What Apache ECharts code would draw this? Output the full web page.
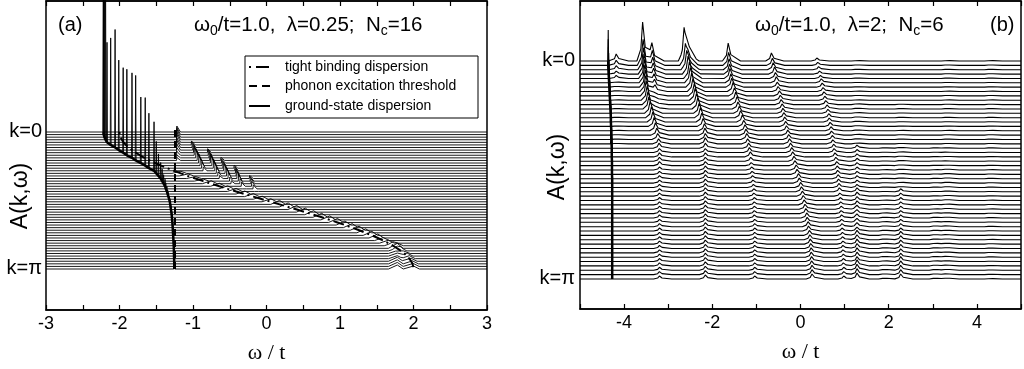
<!DOCTYPE html>
<html>
<head>
<meta charset="utf-8">
<title>A(k,ω) spectra</title>
<script src="https://cdn.jsdelivr.net/npm/echarts@6/dist/echarts.min.js"></script>
<style>
html,body{margin:0;padding:0;background:#fff;}
#chart{width:1024px;height:369px;}
</style>
</head>
<body>
<div id="chart"></div>
<script>
// expand run-length lists [[value, count], ...]
function runs(list) { const out = []; list.forEach(([v, n]) => { for (let j = 0; j < n; j++) out.push(v); }); return out; }

// ================= panel (a): ω0/t=1.0, λ=0.25, Nc=16 =================
const tickLabelsA = [-3, -2, -1, 0, 1, 2, 3];
const kLinesA = 54;                              // k = 0 (top) ... k = π (bottom)
const thresholdA = -1.245;                       // E0 + ω0
const tightBindingA = [-2.000,-1.996,-1.986,-1.968,-1.944,-1.913,-1.875,-1.830,-1.779,-1.722,-1.659,-1.590,-1.515,-1.435,-1.350,-1.260,-1.166,-1.068,-0.966,-0.861,-0.752,-0.641,-0.528,-0.412,-0.295,-0.178,-0.059,0.059,
  0.178,0.295,0.412,0.528,0.641,0.752,0.861,0.966,1.068,1.166,1.260,1.350,1.435,1.515,1.590,1.659,1.722,1.779,1.830,1.875,1.913,1.944,1.968,1.986,1.996,2.000];
const groundStateA = [-2.22,-2.215,-2.205,-2.19,-2.17,-2.12,-2.06,-2.01,-1.95,-1.90,
  -1.83,-1.78,-1.71,-1.65,-1.60,-1.53,-1.50,-1.47,-1.44,-1.42,
  -1.40,-1.38,-1.37,-1.355,-1.345,-1.335,-1.325,-1.315,-1.31,-1.305,
  -1.30,-1.295,-1.29,-1.287,-1.284,-1.281,-1.278,-1.276,-1.274,-1.272,
  -1.27,-1.268,-1.266,-1.264,-1.262,-1.261,-1.26,-1.259,-1.258,-1.257,
  -1.256,-1.255,-1.255,-1.255];
const qpWeightA = [220,210,200,190,100,107,118,90,85,86,85,85,66,68,55,49,32,22,16,12,9,7,6,5,4,4].concat(runs([[3, 28]]));
// phonon-edge peaks just above the threshold
const edgeA = { from: 0, pos: -1.22, h: [6,7,8,8,8,7,7,6,5,4,3,3,2] };
// satellite ridges between the threshold and the band
const ridgesA = [
  { from: 5,  pos: [-1.02,-1.01,-1.00,-0.99,-0.98,-0.96,-0.94,-0.92,-0.90,-0.88,-0.86], h: [4,5,6,7,8,9,9,9,8,6,4] },
  { from: 8,  pos: [-0.80,-0.79,-0.78,-0.77,-0.76,-0.74,-0.72,-0.70,-0.68,-0.66,-0.64], h: [4,5,6,7,8,9,9,8,6,4,3] },
  { from: 11, pos: [-0.62,-0.61,-0.60,-0.59,-0.58,-0.56,-0.54,-0.52,-0.50,-0.48], h: [3,4,5,6,7,8,8,6,4,3] },
  { from: 14, pos: [-0.44,-0.43,-0.42,-0.41,-0.40,-0.38,-0.36,-0.34,-0.32], h: [3,4,5,6,7,7,5,4,2] },
  { from: 17, pos: [-0.24,-0.23,-0.22,-0.21,-0.20,-0.18,-0.16], h: [2,3,4,5,5,4,2] }
];
// incoherent hump riding on the band
const humpA = { from: 16, pos: tightBindingA.slice(16), h: runs([[2,4],[3,8],[4,14],[3,12]]) };
const upperHumpA = { from: 44, pos: 1.78, h: [2,2,3,3,3,3,4,4,4,4] };

// ================= panel (b): ω0/t=1.0, λ=2, Nc=6 =================
const tickLabelsB = [-4, -2, 0, 2, 4];
const kLinesB = 51;
const polaronB = [-4.36,-4.36,-4.355,-4.35,-4.345,-4.34,-4.335,-4.33,-4.325,-4.32,
  -4.315,-4.31,-4.305,-4.30,-4.30,-4.295,-4.29,-4.29,-4.285,-4.285,
  -4.28,-4.28,-4.28,-4.275,-4.275,-4.275,-4.275].concat(runs([[-4.27, 24]]));
const polaronWeightB = [31,26,23,21,19,18,17,16,15,14,14,13,13,12,12,12,11,11,11,10,10,10,10,9,9,9,9,9,9,8].concat(runs([[8, 21]]));
const peaksB = [
  { from: 0, pos: -4.18, h: [7,5,4,3,3,2,2,2,1,1,1,1,1,1,1,1,1,1,1,1] },
  { from: 0, pos: [-3.58,-3.57,-3.56,-3.55,-3.54,-3.53,-3.52,-3.51,-3.50,-3.48,-3.46,-3.44,-3.41,-3.38,-3.35,-3.32,-3.29,-3.26,-3.24,-3.22,-3.21].concat(runs([[-3.20, 30]])),
    h: [39,26,22,20,19,18,17,16,15,14,13,12,12,11,10,9,8,7,6,5,5,4,4,4,4].concat(runs([[3, 26]])) },
  { from: 0, pos: [-3.37,-3.36,-3.35,-3.34,-3.33,-3.32,-3.31,-3.30,-3.29,-3.28,-3.27,-3.26], h: [14,12,10,9,8,7,6,5,4,3,2,1] },
  { from: 0, pos: [-2.64,-2.61,-2.58,-2.55,-2.52,-2.50,-2.47,-2.44,-2.41,-2.39,-2.36,-2.33,-2.30,-2.27,-2.24,-2.21,-2.18,-2.17].concat(runs([[-2.16, 33]])),
    h: [29,20,18,17,16,15,14,13,12,12,11,11,10,10,9,8,7,7,6,6,5].concat(runs([[4, 30]])) },
  { from: 0, pos: [-2.58,-2.555,-2.53,-2.505,-2.48,-2.455], h: [19,8,5,3,2,1] },
  { from: 0, pos: [-1.64,-1.63,-1.62,-1.61,-1.60,-1.58,-1.56,-1.53,-1.50,-1.47,-1.44,-1.42,-1.39,-1.36,-1.32,-1.29,-1.26,-1.24,-1.22,-1.20,-1.18,-1.16,-1.14,-1.13,-1.12,-1.11,-1.10,-1.09,-1.08,-1.07,-1.06,-1.06,-1.05,-1.05,-1.05,-1.05,-1.05].concat(runs([[-1.04, 14]])),
    h: [18,13,11,10,10,9,9,9,8,8,8,7,7,7,7,6,6,6,6,5,5,5,5,4].concat(runs([[3, 27]])) },
  { from: 0, pos: [-0.66,-0.64,-0.62,-0.59,-0.57,-0.55,-0.53,-0.51,-0.48,-0.46,-0.44,-0.42,-0.40,-0.38,-0.36,-0.34,-0.32,-0.29,-0.27,-0.25,-0.23,-0.20,-0.18,-0.15,-0.13,-0.10,-0.08,-0.05,-0.03,0.00,0.02,0.04,0.06,0.08,0.10,0.12,0.14,0.15,0.17,0.18,0.20,0.21,0.22,0.23,0.24,0.24,0.25,0.25,0.26,0.26,0.26],
    h: [8,7,7,7,6,6].concat(runs([[5, 45]])) },
  { from: 0, pos: [0.37,0.39,0.41,0.43,0.45,0.47,0.49,0.51,0.53,0.55,0.57,0.60,0.62,0.64,0.65,0.67,0.69,0.70,0.72,0.73,0.75,0.76,0.78,0.80,0.82,0.83,0.84,0.85,0.86,0.87,0.88,0.89,0.90,0.91,0.92,0.92,0.93,0.93,0.94,0.94,0.95,0.95,0.96,0.96,0.96,0.97,0.97,0.97,0.98,0.98,0.98],
    h: runs([[3,5],[4,26],[3,20]]) },
  { from: 0, pos: 1.28, h: runs([[1,10],[2,10],[3,10],[4,10],[5,7],[6,4]]) },
  { from: 0, pos: 1.90, h: runs([[0,20],[1,15],[2,16]]) },
  { from: 0, pos: 2.27, h: runs([[0,10],[1,10],[2,10],[3,10],[4,6],[5,5]]) },
  { from: 0, pos: 3.05, h: runs([[0,20],[1,15],[2,16]]) },
  { from: 0, pos: 3.32, h: runs([[1,25],[2,26]]) },
  { from: 0, pos: 4.30, h: runs([[1,51]]) }
];

// ---------------- drawing helpers ----------------
const SANS = '"Liberation Sans", Arial, Helvetica, sans-serif';
const SERIF = '"Liberation Serif", "Times New Roman", Times, serif';

// line-shape templates: list of [fraction of height, left half-width, right half-width]
const SHAPE = {
  spike: [[1, 0.006, 0.006]],
  edge:  [[1, 0.004, 0.05]],
  hump:  [[1, 0.12, 0.08]],
  peak:  [[0.55, 0.04, 0.06], [0.45, 0.13, 0.28]]
};

function peakAt(track, i) {
  const j = i - (track.from || 0);
  if (j < 0 || j >= track.h.length || !track.h[j]) return null;
  return [Array.isArray(track.pos) ? track.pos[j] : track.pos, track.h[j]];
}
function addShape(list, pk, shape) {
  if (!pk) return;
  SHAPE[shape].forEach(([f, wl, wr]) => list.push([pk[0], pk[1] * f, wl, wr]));
}
function triValue(x, t) {
  const [p, h, wl, wr] = t;
  if (x <= p - wl || x >= p + wr) return 0;
  return x <= p ? h * (x - (p - wl)) / wl : h * ((p + wr) - x) / wr;
}
function trace(tris, xmin, xmax, base) {
  const xs = [xmin, xmax];
  tris.forEach(t => xs.push(t[0] - t[2], t[0], t[0] + t[3]));
  const u = Array.from(new Set(xs.map(x => +x.toFixed(5)))).filter(x => x >= xmin && x <= xmax).sort((a, b) => a - b);
  return u.map(x => [x, base + tris.reduce((s, t) => s + triValue(x, t), 0)]);
}

// vertical layout of the stacked spectra (value units = pixels of each grid)
const baseA = i => 178 - i * (137 / 53);
const baseB = i => 248 - i * (218 / 50);

const series = [];
function spectrumSeries(grid, data) {
  series.push({
    type: 'line', xAxisIndex: grid * 2, yAxisIndex: grid, data, showSymbol: false, symbol: 'none',
    silent: true, animation: false, clip: true,
    lineStyle: { color: '#000', width: grid === 0 ? 0.9 : 1.1 }, z: 2
  });
}

for (let i = 0; i < kLinesA; i++) {
  const tris = [];
  addShape(tris, [groundStateA[i], qpWeightA[i]], 'spike');
  addShape(tris, peakAt(edgeA, i), 'edge');
  ridgesA.forEach(r => addShape(tris, peakAt(r, i), 'edge'));
  addShape(tris, peakAt(humpA, i), 'hump');
  addShape(tris, peakAt(upperHumpA, i), 'hump');
  spectrumSeries(0, trace(tris, -3, 3, baseA(i)));
}
for (let i = 0; i < kLinesB; i++) {
  const tris = [];
  addShape(tris, [polaronB[i], polaronWeightB[i]], 'spike');
  peaksB.forEach(t => addShape(tris, peakAt(t, i), 'peak'));
  spectrumSeries(1, trace(tris, -5, 5, baseB(i)));
}

// dispersion overlays
function overlay(grid, data, type, width) {
  series.push({
    type: 'line', xAxisIndex: grid * 2, yAxisIndex: grid, data, showSymbol: false, symbol: 'none',
    silent: true, animation: false, z: 5, lineStyle: { color: '#000', width, type }
  });
}
overlay(0, tightBindingA.map((w, i) => [w, baseA(i)]), [2, 4, 11, 4], 2);
overlay(0, [[thresholdA, baseA(0) + 2], [thresholdA, baseA(kLinesA - 1) - 2]], [7, 4], 2);
overlay(0, groundStateA.map((w, i) => [w, baseA(i)]), 'solid', 2.5);
overlay(1, polaronB.map((w, i) => [w, baseB(i)]), 'solid', 2.5);

function xAxes(grid, min, max, step, labels) {
  const common = {
    type: 'value', gridIndex: grid, min, max, interval: step,
    splitLine: { show: false },
    axisLine: { show: true, onZero: false, lineStyle: { color: '#000', width: 1.5 } },
    axisTick: { show: true, inside: true, length: 5, lineStyle: { color: '#000', width: 1.2 } }
  };
  return [
    Object.assign({}, common, {
      position: 'bottom',
      axisLabel: {
        color: '#000', fontSize: 18, fontFamily: SANS, margin: 5,
        formatter: v => labels.some(l => Math.abs(l - v) < 1e-6) ? String(Math.round(v)) : ''
      },
      name: 'ω / t', nameLocation: 'middle', nameGap: 32,
      nameTextStyle: { color: '#000', fontSize: 22, fontFamily: SERIF }
    }),
    Object.assign({}, common, { position: 'top', axisLabel: { show: false } })
  ];
}

const chart = echarts.init(document.getElementById('chart'), null, { renderer: 'canvas' });
chart.setOption({
  backgroundColor: '#fff',
  animation: false,
  grid: [
    { left: 46, top: 1, width: 441, height: 309, show: true, borderColor: '#000', borderWidth: 1.5, containLabel: false },
    { left: 580, top: 1, width: 447, height: 308, show: true, borderColor: '#000', borderWidth: 1.5, containLabel: false }
  ],
  xAxis: xAxes(0, -3, 3, 0.5, tickLabelsA).concat(xAxes(1, -5, 5, 1, tickLabelsB)),
  yAxis: [
    { type: 'value', gridIndex: 0, min: 0, max: 309, show: false },
    { type: 'value', gridIndex: 1, min: 0, max: 308, show: false }
  ],
  series
});

// labels placed on the k = 0 and k = π baselines
const pA0 = chart.convertToPixel({ gridIndex: 0 }, [-3, baseA(0)]);
const pA1 = chart.convertToPixel({ gridIndex: 0 }, [-3, baseA(kLinesA - 1)]);
const pB0 = chart.convertToPixel({ gridIndex: 1 }, [-5, baseB(0)]);
const pB1 = chart.convertToPixel({ gridIndex: 1 }, [-5, baseB(kLinesB - 1)]);

const txt = (x, y, text, opts) => Object.assign({
  type: 'text', x, y, silent: true, z: 20,
  style: Object.assign({ text, fill: '#000', font: '20px ' + SANS, textAlign: 'right', textVerticalAlign: 'middle' }, opts || {})
});
const params = (x, text) => ({
  type: 'text', x, y: 25, silent: true, z: 20,
  style: {
    text, fill: '#000', textVerticalAlign: 'middle', textAlign: 'left',
    rich: {
      m: { fontSize: 20.5, fontFamily: SANS, fill: '#000' },
      s: { fontSize: 14, fontFamily: SANS, fill: '#000', padding: [12, 0, 0, 0] }
    }
  }
});
const legendRow = (y, dash, label) => ([
  { type: 'line', shape: { x1: 249, y1: y, x2: 270, y2: y }, style: { stroke: '#000', lineWidth: 2, lineDash: dash }, silent: true, z: 21 },
  { type: 'text', x: 285, y, silent: true, z: 21, style: { text: label, fill: '#000', font: '14px ' + SANS, textVerticalAlign: 'middle' } }
]);

chart.setOption({
  graphic: [
    txt(pA0[0] - 4, pA0[1] - 1, 'k=0'),
    txt(pA1[0] - 4, pA1[1] - 1, 'k=π'),
    txt(pB0[0] - 5, pB0[1] - 1, 'k=0'),
    txt(pB1[0] - 5, pB1[1] - 1, 'k=π'),
    { type: 'text', x: 21, y: 196, rotation: Math.PI / 2, silent: true, z: 20,
      style: { text: 'A(k,ω)', fill: '#000', font: '23px ' + SANS, textAlign: 'center', textVerticalAlign: 'middle' } },
    { type: 'text', x: 558, y: 167, rotation: Math.PI / 2, silent: true, z: 20,
      style: { text: 'A(k,ω)', fill: '#000', font: '23px ' + SANS, textAlign: 'center', textVerticalAlign: 'middle' } },
    txt(58, 25, '(a)', { textAlign: 'left', font: '20px ' + SANS }),
    txt(990, 25, '(b)', { textAlign: 'left', font: '20px ' + SANS }),
    params(194, '{m|ω}{s|0}{m|/t=1.0,  λ=0.25;  N}{s|c}{m|=16}'),
    params(755, '{m|ω}{s|0}{m|/t=1.0,  λ=2;  N}{s|c}{m|=6}'),
    { type: 'rect', shape: { x: 245, y: 56, width: 233, height: 62 }, style: { fill: '#fff', stroke: '#000', lineWidth: 1 }, silent: true, z: 20 }
  ].concat(
    legendRow(67, [2, 5, 13, 100], 'tight binding dispersion'),
    legendRow(86, [8, 5], 'phonon excitation threshold'),
    legendRow(106, null, 'ground-state dispersion')
  )
});
</script>
</body>
</html>
